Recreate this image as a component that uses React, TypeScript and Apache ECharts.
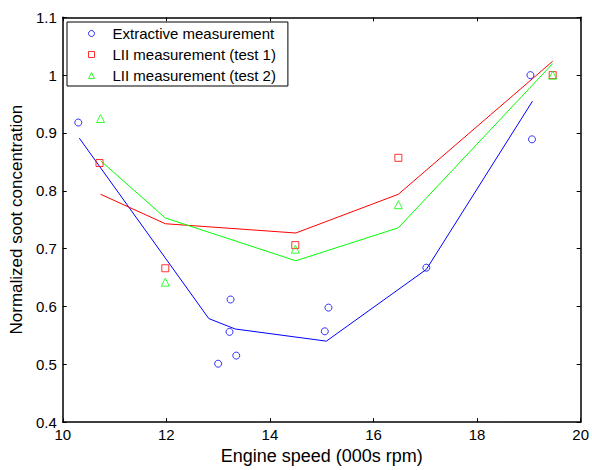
import React, { useEffect, useRef } from "react";
import * as echarts from "echarts";

// Measured points
const extractiveX = [10.3, 13.0, 13.24, 13.22, 13.35, 15.06, 15.13, 17.02, 19.03, 19.06];
const extractiveY = [0.918, 0.501, 0.612, 0.556, 0.515, 0.557, 0.598, 0.667, 1.0, 0.889];

const test1X = [10.71, 11.98, 14.49, 16.48, 19.46];
const test1Y = [0.848, 0.666, 0.706, 0.857, 1.0];

const test2X = [10.73, 11.98, 14.49, 16.48, 19.46];
const test2Y = [0.925, 0.642, 0.699, 0.776, 1.0];

// Fitted lines
const fitExtractiveX = [10.32, 12.82, 13.33, 15.09, 17.02, 19.07];
const fitExtractiveY = [0.891, 0.579, 0.561, 0.54, 0.664, 0.955];

const fitTest1X = [10.73, 11.98, 14.5, 16.48, 19.46];
const fitTest1Y = [0.794, 0.743, 0.727, 0.794, 1.024];

const fitTest2X = [10.73, 11.98, 14.5, 16.48, 19.46];
const fitTest2Y = [0.852, 0.753, 0.679, 0.736, 1.02];

const xTicks = { min: 10, max: 20, interval: 2 };
const yTicks = { min: 0.4, max: 1.1, interval: 0.1 };

const names = [
  "Extractive measurement",
  "LII measurement (test 1)",
  "LII measurement (test 2)",
];

const pairs = (xs: number[], ys: number[]) => xs.map((x, i) => [x, ys[i]]);

const FONT = "'Liberation Sans', Arial, Helvetica, sans-serif";

export default function App() {
  const ref = useRef<HTMLDivElement>(null);
  useEffect(() => {
    if (!ref.current) return;
    const chart = echarts.init(ref.current, undefined, { renderer: "svg" });
    const axisLine = { show: true, lineStyle: { color: "#000", width: 1.5 } };
    const tick = { show: true, inside: true, length: 4, lineStyle: { color: "#000", width: 1 } };
    const yFmt = (v: number) => String(parseFloat(v.toFixed(1)));
    const marker = (color: string) => ({
      color: "rgba(255,255,255,0)",
      borderColor: color,
      borderWidth: 1,
    });
    chart.setOption({
      animation: false,
      backgroundColor: "#fff",
      textStyle: { fontFamily: FONT },
      grid: { left: 62.5, right: 9, top: 17.3, bottom: 40, containLabel: false },
      xAxis: [
        {
          type: "value",
          ...xTicks,
          position: "bottom",
          axisLine,
          axisTick: tick,
          splitLine: { show: false },
          axisLabel: { color: "#000", fontSize: 15, fontFamily: FONT, margin: 5 },
          name: "Engine speed (000s rpm)",
          nameLocation: "middle",
          nameGap: 22,
          nameTextStyle: { color: "#000", fontSize: 18, fontFamily: FONT },
        },
        {
          type: "value",
          ...xTicks,
          position: "top",
          axisLine,
          axisTick: tick,
          splitLine: { show: false },
          axisLabel: { show: false },
        },
      ],
      yAxis: [
        {
          type: "value",
          ...yTicks,
          position: "left",
          axisLine,
          axisTick: tick,
          splitLine: { show: false },
          axisLabel: { color: "#000", fontSize: 15, fontFamily: FONT, margin: 6, formatter: yFmt },
          name: "Normalized soot concentration",
          nameLocation: "middle",
          nameGap: 34,
          nameTextStyle: { color: "#000", fontSize: 17, fontFamily: FONT },
        },
        {
          type: "value",
          ...yTicks,
          position: "right",
          axisLine,
          axisTick: tick,
          splitLine: { show: false },
          axisLabel: { show: false },
        },
      ],
      legend: {
        data: names,
        orient: "vertical",
        left: 67,
        top: 22,
        backgroundColor: "#fff",
        borderColor: "#000",
        borderWidth: 1,
        borderRadius: 0,
        padding: [4, 12, 3, 21],
        itemWidth: 6,
        itemHeight: 6,
        itemGap: 6,
        itemStyle: { borderWidth: 1 },
        formatter: (n: string) => "{t|" + n + "}",
        textStyle: {
          color: "#000",
          fontSize: 15,
          fontFamily: FONT,
          rich: { t: { color: "#000", fontSize: 15, fontFamily: FONT, padding: [0, 0, 0, 13] } },
        },
      },
      series: [
        {
          name: "fit-extractive",
          type: "line",
          data: pairs(fitExtractiveX, fitExtractiveY),
          showSymbol: false,
          symbol: "none",
          lineStyle: { color: "#0000ff", width: 1 },
          itemStyle: { color: "#0000ff" },
          z: 1,
        },
        {
          name: "fit-test1",
          type: "line",
          data: pairs(fitTest1X, fitTest1Y),
          showSymbol: false,
          symbol: "none",
          lineStyle: { color: "#ff0000", width: 1 },
          itemStyle: { color: "#ff0000" },
          z: 1,
        },
        {
          name: "fit-test2",
          type: "line",
          data: pairs(fitTest2X, fitTest2Y),
          showSymbol: false,
          symbol: "none",
          lineStyle: { color: "#00ff00", width: 1 },
          itemStyle: { color: "#00ff00" },
          z: 1,
        },
        {
          name: names[0],
          type: "scatter",
          data: pairs(extractiveX, extractiveY),
          symbol: "circle",
          symbolSize: 7,
          itemStyle: marker("#0000ff"),
          z: 3,
        },
        {
          name: names[1],
          type: "scatter",
          data: pairs(test1X, test1Y),
          symbol: "rect",
          symbolSize: 7,
          itemStyle: marker("#ff0000"),
          z: 3,
        },
        {
          name: names[2],
          type: "scatter",
          data: pairs(test2X, test2Y),
          symbol: "triangle",
          symbolSize: 8,
          itemStyle: marker("#00ff00"),
          z: 3,
        },
      ],
    });
    return () => chart.dispose();
  }, []);
  return <div ref={ref} style={{ width: 592, height: 470, position: "absolute", left: 0, top: 0 }} />;
}
